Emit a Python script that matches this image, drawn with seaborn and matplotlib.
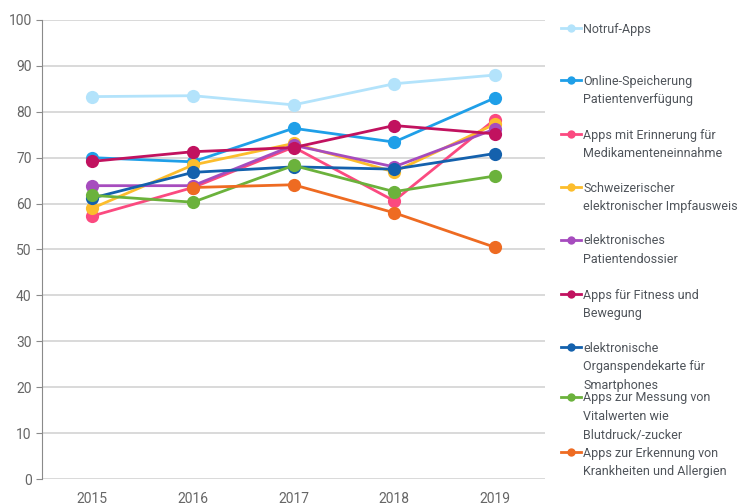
import pandas as pd
import numpy as np
from matplotlib import pyplot as plt
from matplotlib.lines import Line2D
import seaborn as sns

years = [2015, 2016, 2017, 2018, 2019]

# Series names (legend labels, with line breaks like in the source)
labels = [
    "Notruf-Apps",
    "Online-Speicherung\nPatientenverfügung",
    "Apps mit Erinnerung für\nMedikamenteneinnahme",
    "Schweizerischer\nelektronischer Impfausweis",
    "elektronisches\nPatientendossier",
    "Apps für Fitness und\nBewegung",
    "elektronische\nOrganspendekarte für\nSmartphones",
    "Apps zur Messung von\nVitalwerten wie\nBlutdruck/-zucker",
    "Apps zur Erkennung von\nKrankheiten und Allergien",
]

notruf = [83.3, 83.5, 81.5, 86.1, 88.0]
online = [70.0, 69.1, 76.4, 73.4, 83.0]
erinnerung = [57.3, 63.5, 72.3, 60.6, 78.3]
impfausweis = [59.0, 68.4, 73.1, 66.9, 77.3]
dossier = [63.9, 63.9, 72.7, 68.0, 76.2]
fitness = [69.2, 71.3, 72.2, 77.0, 75.2]
organspende = [61.2, 66.8, 68.0, 67.5, 70.9]
vitalwerte = [61.8, 60.3, 68.3, 62.6, 66.0]
erkennung = [np.nan, 63.5, 64.1, 58.0, 50.5]

series = [notruf, online, erinnerung, impfausweis, dossier, fitness,
          organspende, vitalwerte, erkennung]

colors = ["#b3e3fb", "#1f9fe8", "#fb4a80", "#fcbd2c", "#a64cbe",
          "#c1125f", "#1461ad", "#6bb23c", "#ee6b22"]

plt.rcParams['font.family'] = ['Roboto', 'DejaVu Sans']

fig = plt.figure(figsize=(7.38, 5.04), dpi=100)
ax = fig.add_axes([0.057, 0.0496, 0.6815, 0.9108])

for lab, vals, col in zip(labels, series, colors):
    df = pd.DataFrame({"Jahr": years, "Wert": vals}).dropna()
    sns.lineplot(data=df, x="Jahr", y="Wert", ax=ax, color=col, lw=2.0,
                 marker="o", markersize=9.5, markeredgewidth=0)

ax.set_xlim(2014.5, 2019.5)
ax.set_ylim(0, 100)
ax.set_xticks(years)
ax.set_yticks(range(0, 101, 10))
ax.set_xlabel("")
ax.set_ylabel("")
ax.grid(axis="y", color="#cfcfcf", lw=1.1)
ax.set_axisbelow(True)
for s in ["top", "right", "bottom"]:
    ax.spines[s].set_visible(False)
ax.spines["left"].set_color("#8a8a8a")
ax.tick_params(axis="y", length=4, color="#8a8a8a", labelcolor="#666666", labelsize=10)
ax.tick_params(axis="x", length=0, labelcolor="#666666", labelsize=10, pad=9)

# Legend on the right, handle aligned to first line of each label
leg_y = [28, 80, 134, 187, 240, 294, 347, 397, 452]
for lab, col, yp in zip(labels, colors, leg_y):
    yf = 1 - yp / 504
    fig.add_artist(Line2D([561 / 738, 581 / 738], [yf, yf], color=col, lw=2.0,
                          transform=fig.transFigure))
    fig.add_artist(Line2D([571 / 738], [yf], color=col, marker="o", markersize=6,
                          markeredgewidth=0, transform=fig.transFigure))
    fig.text(583 / 738, yf + 5.5 / 504, lab, fontsize=9, color="#4f545a",
             va="top", ha="left", linespacing=1.56)

fig.savefig("out.png", dpi=100)
